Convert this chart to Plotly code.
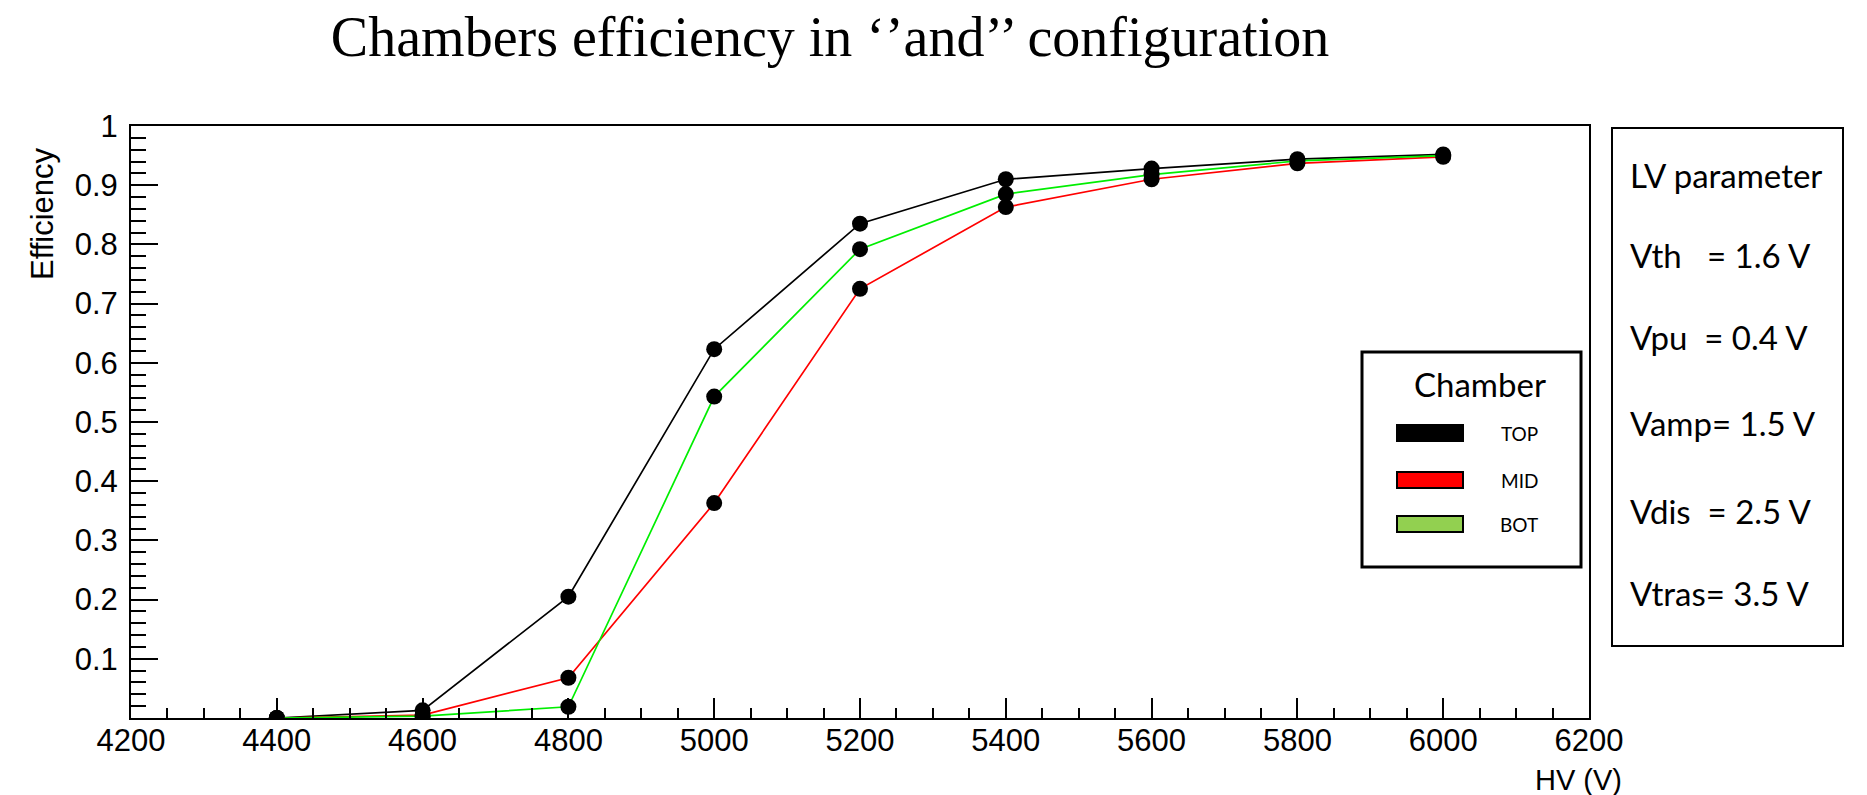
import plotly.graph_objects as go

# ---------------- data ----------------
hv = [4400, 4600, 4800, 5000, 5200, 5400, 5600, 5800, 6000]
eff_top = [0.000, 0.013, 0.205, 0.623, 0.835, 0.910, 0.928, 0.944, 0.952]
eff_mid = [0.000, 0.005, 0.068, 0.363, 0.725, 0.863, 0.910, 0.937, 0.948]
eff_bot = [0.000, 0.003, 0.019, 0.543, 0.792, 0.885, 0.918, 0.941, 0.950]

series_names = ["TOP", "MID", "BOT"]
line_colors = ["#000000", "#ff0000", "#00ee00"]
legend_swatch_colors = ["#000000", "#ff0000", "#92d050"]

x_ticks = [4200, 4400, 4600, 4800, 5000, 5200, 5400, 5600, 5800, 6000, 6200]
y_ticks = [0.1, 0.2, 0.3, 0.4, 0.5, 0.6, 0.7, 0.8, 0.9, 1.0]
y_tick_labels = ["0.1", "0.2", "0.3", "0.4", "0.5", "0.6", "0.7", "0.8", "0.9", "1"]

lv_lines = ["LV parameter", "Vth   = 1.6 V", "Vpu  = 0.4 V", "Vamp= 1.5 V",
            "Vdis  = 2.5 V", "Vtras= 3.5 V"]

title_text = "Chambers efficiency in ‘’and’’ configuration"

# ---------------- geometry (pixels) ----------------
W, H = 1867, 795
PL, PR, PT, PB = 131, 1589, 126, 718  # plot area edges


def px(x):
    return (x - PL) / (PR - PL)


def py(y):
    return (PB - y) / (PB - PT)


fig = go.Figure()
for name, ys, col in zip(series_names, [eff_top, eff_mid, eff_bot], line_colors):
    fig.add_trace(go.Scatter(
        x=hv, y=ys, mode="lines+markers", name=name, showlegend=False,
        line=dict(color=col, width=1.7),
        marker=dict(color="#000000", size=16, symbol="circle"),
    ))

shapes = []
annotations = []

# legend box
shapes.append(dict(type="rect", xref="paper", yref="paper",
                   x0=px(1362), x1=px(1581), y0=py(567), y1=py(352),
                   line=dict(color="black", width=3), fillcolor="white", layer="above"))
annotations.append(dict(xref="paper", yref="paper", x=px(1480), y=py(384),
                        text="Chamber", showarrow=False, xanchor="center", yanchor="middle",
                        font=dict(family="Lato", size=33, color="black")))
entry_y = [433, 480, 524]
for name, col, yy in zip(series_names, legend_swatch_colors, entry_y):
    shapes.append(dict(type="rect", xref="paper", yref="paper",
                       x0=px(1397), x1=px(1463), y0=py(yy + 8), y1=py(yy - 8),
                       line=dict(color="black", width=2), fillcolor=col, layer="above"))
    annotations.append(dict(xref="paper", yref="paper", x=px(1519), y=py(yy),
                            text=name, showarrow=False, xanchor="center", yanchor="middle",
                            font=dict(family="Lato", size=19, color="black")))

# LV parameter box
shapes.append(dict(type="rect", xref="paper", yref="paper",
                   x0=px(1612), x1=px(1843), y0=py(646), y1=py(128),
                   line=dict(color="black", width=2), fillcolor="white", layer="above"))
lv_y = [175, 255, 337, 423, 511, 593]
for t, yy in zip(lv_lines, lv_y):
    annotations.append(dict(xref="paper", yref="paper", x=px(1628), y=py(yy),
                            text=t.replace(" ", "&nbsp;"), showarrow=False, xanchor="left", yanchor="middle",
                            font=dict(family="Lato", size=33, color="black")))

# axis titles
annotations.append(dict(xref="paper", yref="paper", x=px(42), y=py(214),
                        text="Efficiency", showarrow=False, textangle=-90,
                        xanchor="center", yanchor="middle",
                        font=dict(family="Liberation Sans", size=31, color="black")))
annotations.append(dict(xref="paper", yref="paper", x=px(1624), y=py(780),
                        text="HV (V)", showarrow=False, xanchor="right", yanchor="middle",
                        font=dict(family="Liberation Sans Narrow, Liberation Sans", size=29, color="black")))

fig.update_layout(
    width=W, height=H, autosize=False,
    margin=dict(l=PL, r=W - PR, t=PT, b=H - PB, pad=0),
    paper_bgcolor="white", plot_bgcolor="white",
    title=dict(text=title_text, x=830 / W, xanchor="center", y=1 - 36 / H, yanchor="middle",
               font=dict(family="Liberation Serif", size=56, color="black")),
    shapes=shapes, annotations=annotations,
    xaxis=dict(range=[4200, 6200], tickvals=x_ticks, ticktext=[str(v) for v in x_ticks],
               showgrid=False, zeroline=False, showline=True, linecolor="black", linewidth=2,
               mirror=True, ticks="inside", ticklen=20, tickwidth=1.5, tickcolor="black",
               ticklabelstandoff=-6,
               minor=dict(dtick=50, tick0=4200, ticks="inside", ticklen=10, tickwidth=1.5,
                          tickcolor="black", showgrid=False),
               tickfont=dict(family="Liberation Sans", size=31, color="#000000")),
    yaxis=dict(range=[0, 1], tickvals=y_ticks, ticktext=y_tick_labels,
               showgrid=False, zeroline=False, showline=True, linecolor="black", linewidth=2,
               mirror=True, ticks="inside", ticklen=27, tickwidth=1.5, tickcolor="black",
               ticklabelstandoff=5,
               minor=dict(dtick=0.02, tick0=0, ticks="inside", ticklen=15, tickwidth=1.5,
                          tickcolor="black", showgrid=False),
               tickfont=dict(family="Liberation Sans", size=31, color="#000000")),
)

fig.write_html("out.html", config={"displayModeBar": False},
               post_script="document.body.style.margin='0';")
